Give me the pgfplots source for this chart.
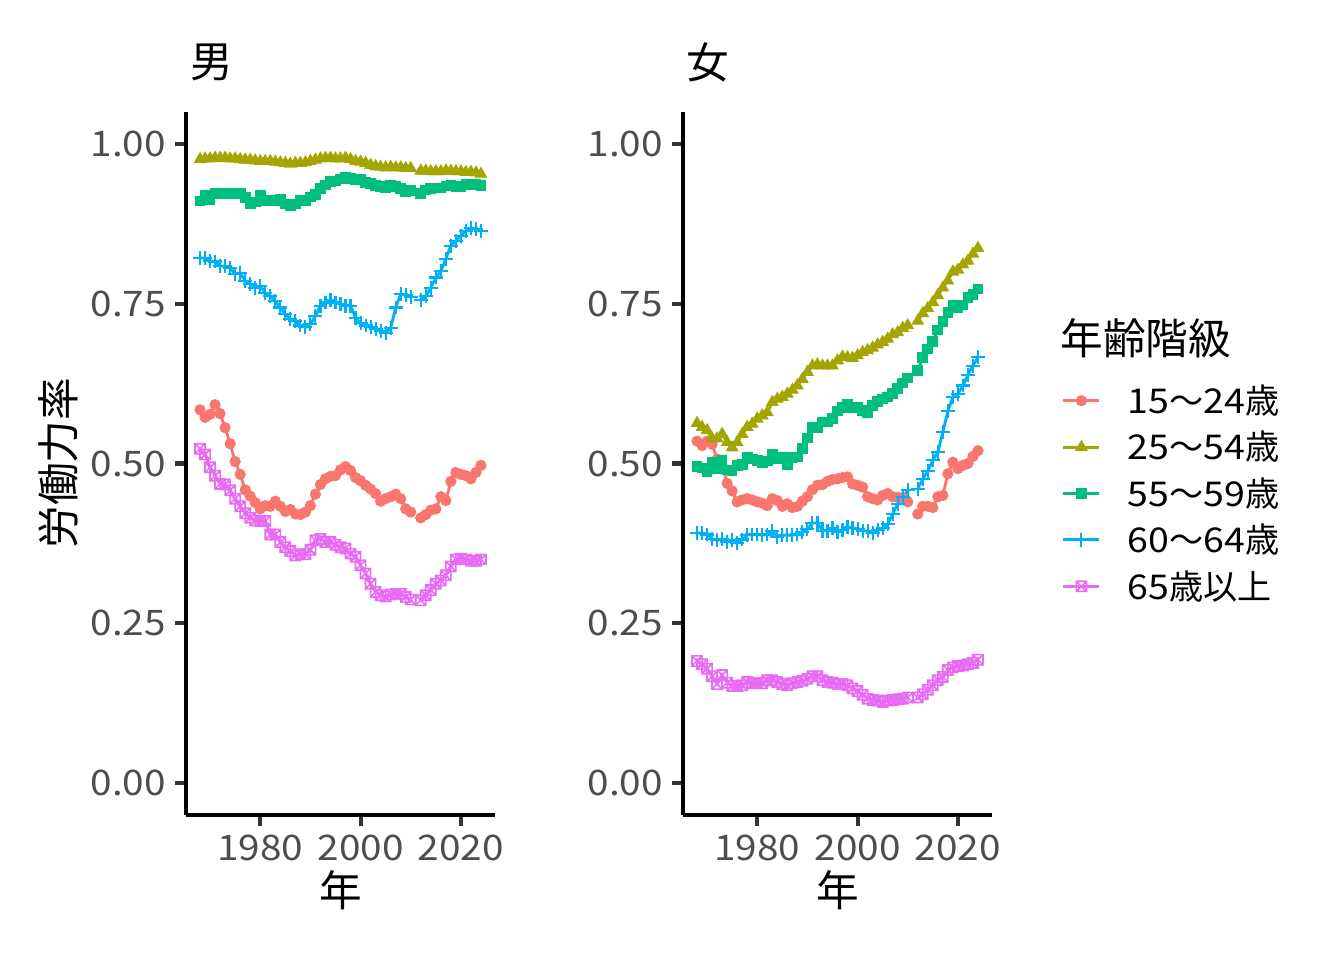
\documentclass[border=0pt]{standalone}
\usepackage{fontspec}
\setmainfont{Noto Sans CJK JP}
\newfontfamily\numfont{Noto Sans CJK JP}[FakeStretch=1.1]
\usepackage{pgfplots}
\usepackage{pgfplotstable}
\pgfplotsset{compat=1.18}

\definecolor{c1}{HTML}{F8766D}
\definecolor{c2}{HTML}{A3A500}
\definecolor{c3}{HTML}{00BF7D}
\definecolor{c4}{HTML}{00B0F6}
\definecolor{c5}{HTML}{E76BF3}
\definecolor{grey20}{HTML}{333333}
\definecolor{grey30}{HTML}{4D4D4D}

% box with a cross, like ggplot shape 7
\pgfdeclareplotmark{boxx}{%
  \pgfpathrectangle{\pgfqpoint{-\pgfplotmarksize}{-\pgfplotmarksize}}{\pgfqpoint{2\pgfplotmarksize}{2\pgfplotmarksize}}%
  \pgfpathmoveto{\pgfqpoint{-\pgfplotmarksize}{-\pgfplotmarksize}}%
  \pgfpathlineto{\pgfqpoint{\pgfplotmarksize}{\pgfplotmarksize}}%
  \pgfpathmoveto{\pgfqpoint{-\pgfplotmarksize}{\pgfplotmarksize}}%
  \pgfpathlineto{\pgfqpoint{\pgfplotmarksize}{-\pgfplotmarksize}}%
  \pgfusepathqstroke}

% year, 15-24, 25-54, 55-59, 60-64, 65+
\pgfplotstableread{
year a b c d e
1968 .584 .976 .911 .822 .523
1969 .572 .977 .919 .821 .514
1970 .577 .977 .913 .817 .494
1971 .592 .978 .923 .816 .481
1972 .578 .978 .922 .809 .468
1973 .556 .978 .922 .809 .467
1974 .531 .977 .922 .806 .458
1975 .503 .977 .922 .797 .445
1976 .483 .976 .922 .798 .433
1977 .459 .975 .916 .786 .422
1978 .449 .975 .906 .781 .415
1979 .439 .974 .909 .775 .411
1980 .429 .973 .920 .778 .410
1981 .434 .973 .912 .767 .410
1982 .433 .973 .912 .762 .389
1983 .441 .972 .911 .754 .389
1984 .433 .971 .914 .744 .377
1985 .425 .970 .906 .734 .369
1986 .428 .969 .903 .726 .363
1987 .421 .970 .906 .723 .356
1988 .420 .970 .912 .716 .358
1989 .424 .971 .912 .713 .358
1990 .434 .973 .917 .718 .365
1991 .452 .975 .921 .731 .380
1992 .467 .977 .930 .747 .382
1993 .476 .978 .936 .752 .377
1994 .480 .978 .941 .756 .377
1995 .481 .977 .942 .752 .373
1996 .490 .977 .945 .750 .369
1997 .495 .978 .948 .747 .367
1998 .489 .976 .946 .747 .359
1999 .478 .973 .944 .728 .354
2000 .473 .972 .944 .720 .341
2001 .466 .970 .940 .716 .328
2002 .460 .967 .938 .713 .312
2003 .453 .965 .935 .710 .299
2004 .441 .964 .933 .707 .294
2005 .445 .963 .932 .704 .292
2006 .448 .964 .936 .712 .295
2007 .452 .963 .933 .744 .296
2008 .445 .963 .930 .765 .296
2009 .429 .962 .926 .764 .291
2010 .424 .962 .927 .761 .287
2011 nan nan nan nan nan
2012 .415 .958 .922 .756 .286
2013 .420 .958 .928 .762 .294
2014 .427 .957 .930 .775 .302
2015 .429 .957 .931 .791 .312
2016 .448 .957 .931 .801 .317
2017 .442 .958 .934 .820 .325
2018 .472 .958 .935 .841 .339
2019 .486 .957 .933 .848 .350
2020 .483 .957 .933 .856 .351
2021 .481 .956 .937 .864 .350
2022 .476 .956 .936 .869 .348
2023 .486 .955 .937 .867 .348
2024 .497 .953 .935 .864 .350
}\male

\pgfplotstableread{
year a b c d e
1968 .535 .563 .495 .391 .191
1969 .528 .557 .493 .391 .186
1970 .535 .552 .488 .389 .179
1971 .530 .539 .502 .382 .167
1972 .507 .539 .492 .380 .155
1973 .497 .546 .505 .382 .169
1974 .469 .533 .490 .377 .157
1975 .457 .525 .489 .380 .152
1976 .440 .533 .497 .376 .152
1977 .443 .546 .498 .381 .153
1978 .445 .557 .510 .388 .158
1979 .443 .562 .507 .389 .156
1980 .440 .570 .505 .389 .156
1981 .438 .575 .501 .388 .156
1982 .434 .580 .504 .389 .161
1983 .445 .596 .515 .395 .161
1984 .442 .601 .507 .385 .158
1985 .433 .604 .510 .388 .155
1986 .437 .609 .498 .388 .153
1987 .431 .615 .509 .388 .156
1988 .433 .622 .510 .389 .158
1989 .441 .632 .523 .393 .160
1990 .448 .643 .540 .398 .163
1991 .459 .653 .556 .407 .167
1992 .466 .655 .556 .407 .167
1993 .467 .653 .565 .395 .161
1994 .472 .653 .565 .395 .158
1995 .475 .653 .570 .399 .157
1996 .476 .661 .582 .393 .155
1997 .478 .667 .588 .396 .155
1998 .479 .666 .592 .400 .153
1999 .468 .665 .588 .399 .148
2000 .466 .669 .588 .398 .144
2001 .463 .674 .583 .395 .138
2002 .448 .677 .580 .394 .132
2003 .445 .681 .591 .391 .130
2004 .443 .686 .597 .396 .129
2005 .450 .690 .601 .399 .127
2006 .453 .695 .604 .405 .129
2007 .448 .702 .610 .421 .130
2008 .447 .705 .617 .437 .131
2009 .447 .712 .626 .447 .132
2010 .440 .716 .634 .458 .134
2011 nan nan nan nan nan
2012 .421 .723 .646 .460 .134
2013 .433 .735 .666 .476 .139
2014 .433 .743 .679 .488 .146
2015 .431 .752 .691 .505 .153
2016 .448 .763 .709 .518 .161
2017 .450 .775 .722 .549 .166
2018 .484 .786 .736 .582 .177
2019 .502 .800 .748 .604 .181
2020 .492 .803 .744 .609 .183
2021 .497 .811 .748 .622 .184
2022 .500 .817 .760 .639 .186
2023 .511 .828 .764 .653 .188
2024 .520 .837 .773 .666 .193
}\female

\pgfplotsset{
  /pgf/number format/assume math mode=true,
  panel/.style={
    scale only axis, width=115.875pt, height=263.625pt,
    anchor=south west,
    xmin=1965.2, xmax=2026.8, ymin=-0.05, ymax=1.05,
    axis x line*=bottom, axis y line*=left,
    axis line style={-, line width=1.55pt, black},
    tick align=outside, major tick length=4pt,
    tick style={line width=1.55pt, grey20},
    xtick={1980,2000,2020}, ytick={0,0.25,0.5,0.75,1},
    tick label style={font=\fontsize{13.2}{14}\numfont, text=grey30},
    x tick label style={/pgf/number format/1000 sep={}},
    y tick label style={/pgf/number format/.cd, fixed, fixed zerofill, precision=2},
    unbounded coords=jump, clip=false,
    legend image code/.code={\draw[mark repeat=2,mark phase=2,##1] plot coordinates {(0pt,0pt) (6.75pt,0pt) (13.5pt,0pt)};},
  },
  s1/.style={c1, line width=1.07pt, mark=*, mark size=1.9pt, mark options={line width=0.4pt}},
  s2/.style={c2, line width=1.07pt, mark=triangle*, mark size=2.4pt, mark options={line width=0.4pt}},
  s3/.style={c3, line width=1.07pt, mark=square*, mark size=1.8pt, mark options={line width=0.4pt}},
  s4/.style={c4, line width=1.07pt, mark=+, mark size=2.6pt, mark options={line width=0.8pt}},
  s5/.style={c5, line width=1.07pt, mark=boxx, mark size=1.9pt, mark options={line width=0.6pt}},
}

\begin{document}
\begin{tikzpicture}
\path[use as bounding box] (0,0) rectangle (504pt,360pt);

\begin{axis}[panel, at={(69.75pt,54.375pt)}]
\addplot[s1] table[x=year,y=a]{\male};
\addplot[s2] table[x=year,y=b]{\male};
\addplot[s3] table[x=year,y=c]{\male};
\addplot[s4] table[x=year,y=d]{\male};
\addplot[s5] table[x=year,y=e]{\male};
\end{axis}

\begin{axis}[panel, at={(256.125pt,54.375pt)},
  legend style={at={(axis description cs:1.2265,0.4573)}, anchor=west,
    draw=none, fill=none, inner sep=0pt, outer sep=0pt,
    row sep=5pt, column sep=10pt,
    font=\fontsize{12.8}{14}\selectfont,
    nodes={inner sep=0pt, text height=11pt, text depth=1.4pt}},
  legend cell align=left]
\addplot[s1] table[x=year,y=a]{\female};
\addplot[s2] table[x=year,y=b]{\female};
\addplot[s3] table[x=year,y=c]{\female};
\addplot[s4] table[x=year,y=d]{\female};
\addplot[s5] table[x=year,y=e]{\female};
\legend{{\numfont 15}～{\numfont 24}歳, {\numfont 25}～{\numfont 54}歳, {\numfont 55}～{\numfont 59}歳, {\numfont 60}～{\numfont 64}歳, {\numfont 65}歳以上}
\end{axis}

\node[anchor=west, inner sep=0pt, font=\fontsize{16}{18}\selectfont] at (71.25pt,336.75pt) {男};
\node[anchor=west, inner sep=0pt, font=\fontsize{16}{18}\selectfont] at (257.25pt,336.75pt) {女};
\node[rotate=90, inner sep=0pt, font=\fontsize{16}{18}\selectfont] at (21.75pt,186.375pt) {労働力率};
\node[inner sep=0pt, font=\fontsize{16}{18}\selectfont] at (127.875pt,26.25pt) {年};
\node[inner sep=0pt, font=\fontsize{16}{18}\selectfont] at (314.25pt,26.25pt) {年};
\node[anchor=west, inner sep=0pt, font=\fontsize{16}{18}\selectfont] at (397.5pt,233.25pt) {年齢階級};
\end{tikzpicture}
\end{document}
